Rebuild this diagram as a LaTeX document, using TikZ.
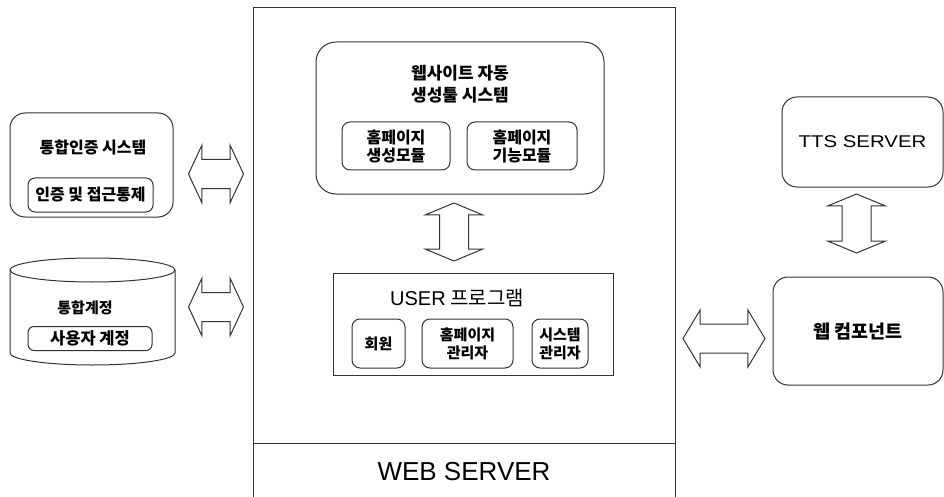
\documentclass[tikz,border=0pt]{standalone}
\usepackage{fontspec}
\setmainfont{Noto Sans CJK KR}
\newfontfamily\latinfont{Liberation Sans}
\newfontfamily\widelatin[FakeStretch=1.2]{Liberation Sans}
\usepackage{tikz}
\usetikzlibrary{shapes.arrows}

\begin{document}
\begin{tikzpicture}[x=1pt, y=-1pt, line width=1pt,
  every node/.style={font=\bfseries\fontsize{15}{18}\selectfont, inner sep=0pt},
  box/.style={draw=black!80, rounded corners=15pt},
  subbox/.style={draw=black!80, rounded corners=8pt, align=center},
  dblarrow/.style={double arrow, draw=black!80, minimum height=#1,
    inner xsep=0pt, inner ysep=14pt, double arrow head extend=14pt,
    double arrow tip angle=130}]

\useasboundingbox (0,0) rectangle (944,497);

% 웹 서버
\node[draw=black!80, anchor=north west, minimum width=422pt, minimum height=500pt] (websrv) at (253,7) {};
\draw[black!80] (websrv.west |- 0,443) -- (websrv.east |- 0,443);
\node[font=\latinfont\fontsize{26}{30}\selectfont] (wstitle) at (464,472) {WEB SERVER};

% 자동 생성툴
\node[box, rounded corners=20pt, minimum width=288pt, minimum height=152pt] (gen) at (460,118) {};
\node[font=\bfseries\fontsize{17}{22}\selectfont, align=center] (gentitle) at (460,84) {웹사이트 자동\\생성툴 시스템};
\node[subbox, font=\bfseries\fontsize{16}{18}\selectfont, minimum width=108pt, minimum height=48pt] (genmod) at (396,146) {홈페이지\\생성모듈};
\node[subbox, font=\bfseries\fontsize{16}{18}\selectfont, minimum width=110pt, minimum height=48pt] (funcmod) at (522,146) {홈페이지\\기능모듈};

% USER 프로그램
\node[draw=black!80, minimum width=280pt, minimum height=102pt] (user) at (473,324) {};
\node[font=\fontsize{20}{22}\selectfont] (usertitle) at (457,298) {{\latinfont USER} 프로그램};
\node[subbox, minimum width=53pt, minimum height=49pt] (member) at (378.5,343.5) {회원};
\node[subbox, minimum width=91pt, minimum height=49pt] (hpadmin) at (467.5,343.5) {홈페이지\\관리자};
\node[subbox, minimum width=56pt, minimum height=49pt] (sysadmin) at (560,343.5) {시스템\\관리자};

% 통합인증
\node[box, minimum width=163pt, minimum height=104pt] (auth) at (91.5,165) {};
\node[font=\bfseries\fontsize{16}{18}\selectfont] (authtitle) at (93,147) {통합인증 시스템};
\node[subbox, font=\bfseries\fontsize{16}{18}\selectfont, rounded corners=7pt, minimum width=125pt, minimum height=34pt] (authctl) at (90.5,195) {인증 및 접근통제};

% 통합계정 (DB)
\draw[black!80] (10,270) -- (10,353) arc[start angle=180, end angle=0, x radius=82.5, y radius=12] -- (175,270);
\draw[black!80] (92.5,270) ellipse[x radius=82.5, y radius=12];
\node (dbtitle) at (85,308) {통합계정};
\node[subbox, font=\bfseries\fontsize{16.5}{18}\selectfont, rounded corners=6pt, minimum width=124pt, minimum height=24pt] (acct) at (90,338.5) {사용자 계정};

% 오른쪽
\node[box, font=\widelatin\fontsize{17}{20}\selectfont, minimum width=161pt, minimum height=90pt] (tts) at (862.5,142) {TTS SERVER};
\node[box, font=\bfseries\fontsize{18.5}{20}\selectfont, minimum width=170pt, minimum height=108pt] (webcomp) at (858,331) {웹 컴포넌트};

% 양방향 화살표
\node[dblarrow=55pt] (authlink) at (216,174) {};
\node[dblarrow=55pt] (dblink) at (216,307) {};
\node[dblarrow=58pt, rotate=90, double arrow tip angle=135] (genlink) at (454,232) {};
\node[dblarrow=59pt, rotate=90, double arrow tip angle=135] (ttslink) at (856.5,223.5) {};
\node[dblarrow=82pt, double arrow tip angle=118] (complink) at (724,338.5) {};

\end{tikzpicture}
\end{document}
